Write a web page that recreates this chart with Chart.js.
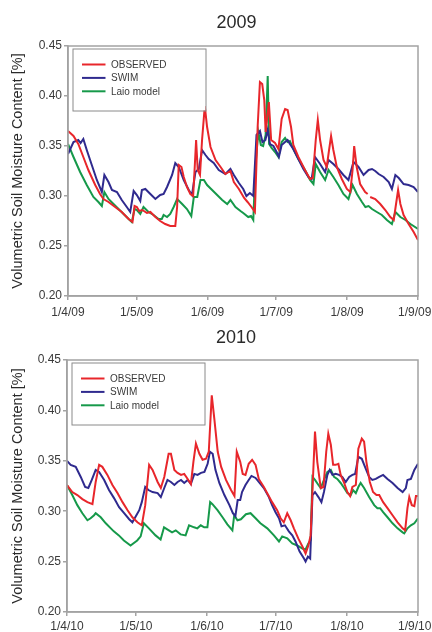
<!DOCTYPE html>
<html>
<head>
<meta charset="utf-8">
<script src="https://cdn.jsdelivr.net/npm/chart.js@4.4.0/dist/chart.umd.min.js"></script>
<style>
  html, body { margin: 0; padding: 0; background: #fff; }
  canvas { display: block; }
</style>
</head>
<body>
<canvas id="c2009" width="432" height="322"></canvas>
<canvas id="c2010" width="432" height="310"></canvas>
<script>
// days counted from 1 April
const seriesNames = ['OBSERVED', 'SWIM', 'Laio model'];
const tickDays = [0, 30, 61, 91, 122, 153];
const tickLabels2009 = ['1/4/09', '1/5/09', '1/6/09', '1/7/09', '1/8/09', '1/9/09'];
const tickLabels2010 = ['1/4/10', '1/5/10', '1/6/10', '1/7/10', '1/8/10', '1/9/10'];
const yTicks = [0.20, 0.25, 0.30, 0.35, 0.40, 0.45];

const obs2009 = [[0,0.365],[2.4,0.360],[4.5,0.352],[6.7,0.339],[8.9,0.326],[11.9,0.311],[14,0.302],[15.5,0.297],[17.7,0.294],[20.6,0.289],
  [23.5,0.284],[26.5,0.277],[28.2,0.274],[29.1,0.290],[30.1,0.289],[31.1,0.285],[32.5,0.286],[34.5,0.283],[36,0.284],[38.2,0.279],
  [40.3,0.275],[42.5,0.272],[44.7,0.270],[46.9,0.270],[47.7,0.289],[48.4,0.331],[49.6,0.329],[50.6,0.319],[52,0.309],[53.5,0.302],
  [54.7,0.300],[55.4,0.329],[56,0.356],[56.7,0.326],[57.7,0.321],[58.6,0.356],[59.8,0.390],[60.8,0.369],[62.3,0.349],[64.5,0.336],
  [66.7,0.329],[68.8,0.322],[71,0.325],[72.5,0.314],[74.7,0.307],[77,0.298],[78.5,0.294],[80.2,0.289],[81.7,0.284],[82.9,0.369],
  [83.9,0.414],[84.9,0.412],[85.8,0.396],[86.4,0.364],[87.8,0.394],[88.8,0.356],[90.5,0.353],[92,0.347],[93.4,0.377],[94.9,0.387],
  [96,0.386],[97.5,0.369],[98.5,0.351],[100.7,0.339],[103.6,0.326],[105.8,0.317],[107,0.318],[108.3,0.356],[109.2,0.376],[110.2,0.356],
  [111.7,0.336],[113.1,0.329],[114,0.344],[115,0.360],[116,0.346],[117.5,0.329],[119.7,0.317],[121.9,0.307],[123.4,0.304],[124.4,0.326],
  [125.1,0.350],[126.2,0.329],[127.7,0.312],[129.9,0.304],[131,0.302],[131.5,null],[132.1,0.299],[134.3,0.297],[136.5,0.292],[138.7,0.286],
  [140.9,0.279],[142.4,0.276],[143.4,0.292],[144.3,0.306],[145.3,0.292],[146.7,0.281],[148.9,0.272],[151.1,0.264],[153,0.256]];

const swim2009 = [[0,0.342],[2.4,0.354],[4.5,0.356],[5.5,0.353],[6.7,0.357],[8.2,0.346],[10.4,0.331],[12.6,0.316],[14.8,0.304],[15.9,0.321],
  [17.7,0.314],[19.2,0.306],[21.4,0.304],[23.5,0.296],[25.7,0.289],[27.2,0.284],[28.7,0.305],[30.1,0.301],[31.6,0.295],[32.3,0.306],
  [33.8,0.307],[36,0.302],[38.2,0.297],[40.3,0.301],[41.8,0.302],[43.3,0.309],[45.5,0.321],[46.9,0.333],[48.4,0.329],[50.6,0.316],
  [52.8,0.306],[54.2,0.301],[55.7,0.324],[57.2,0.327],[58.6,0.346],[60.1,0.341],[61.5,0.337],[63.7,0.333],[65.9,0.326],[68.8,0.322],
  [71,0.327],[72.5,0.321],[74.7,0.313],[76.6,0.307],[78,0.300],[79.5,0.303],[81,0.300],[82.4,0.361],[83.9,0.365],[85,0.354],
  [86.3,0.356],[87.3,0.366],[88.3,0.352],[89.8,0.350],[91.2,0.344],[92.2,0.339],[93.4,0.351],[94.9,0.354],[96,0.356],[97,0.352],
  [98.5,0.347],[100.7,0.337],[102.9,0.327],[105.1,0.319],[106.5,0.317],[108,0.339],[110.2,0.332],[112.4,0.324],[113.9,0.336],[116,0.332],
  [118.2,0.327],[120.4,0.321],[122.6,0.316],[124.8,0.334],[127,0.329],[129.2,0.321],[131.4,0.326],[132.9,0.327],[134.3,0.325],[135.8,0.322],
  [138,0.319],[140.2,0.314],[141.6,0.307],[143.1,0.321],[144.6,0.318],[146.7,0.312],[148.9,0.311],[151.1,0.309],[153,0.304]];

const laio2009 = [[0,0.352],[2.4,0.339],[5.3,0.324],[8.2,0.311],[11.1,0.299],[13.3,0.294],[14.8,0.290],[15.9,0.304],[17.7,0.297],[19.9,0.292],
  [22.1,0.287],[24.3,0.282],[26.5,0.277],[27.9,0.274],[29.1,0.287],[30.1,0.286],[31.6,0.282],[33,0.289],[35.2,0.284],[37.4,0.281],
  [39.6,0.277],[41,0.277],[41.8,0.281],[43.3,0.279],[44.7,0.282],[46.2,0.289],[47.7,0.297],[49.9,0.292],[52,0.287],[53.9,0.280],
  [55,0.299],[56.5,0.299],[57.9,0.316],[59.4,0.316],[60.8,0.311],[63,0.306],[65.2,0.301],[67.4,0.296],[69.6,0.292],[71,0.296],
  [73.2,0.289],[75.4,0.285],[76.6,0.283],[78.8,0.279],[80,0.280],[81,0.276],[81.9,0.329],[83.2,0.364],[84.3,0.351],[85.3,0.350],
  [86.4,0.361],[87.3,0.420],[87.9,0.352],[89,0.348],[90.5,0.344],[92,0.339],[93.4,0.354],[94.9,0.358],[96,0.354],[97,0.355],
  [98.5,0.347],[100.7,0.337],[103.6,0.326],[105.8,0.316],[107.3,0.312],[108.3,0.332],[110.2,0.324],[112.4,0.316],[113.9,0.326],[116,0.319],
  [118.2,0.311],[120.4,0.302],[122.6,0.297],[124.4,0.311],[126.3,0.302],[128.5,0.294],[130,0.289],[131.4,0.290],[132.9,0.287],[135,0.284],
  [137.2,0.281],[139.4,0.276],[141.6,0.272],[143.1,0.284],[145.3,0.279],[147.5,0.276],[149.7,0.272],[153,0.267]];

const obs2010 = [[0,0.326],[2.3,0.319],[4.5,0.316],[6.7,0.312],[8.9,0.309],[11.1,0.307],[12.5,0.329],[14,0.346],[15.4,0.344],[17.6,0.336],
  [19.8,0.326],[22,0.318],[24.2,0.309],[26.4,0.301],[28.5,0.294],[30.7,0.289],[32.6,0.286],[34.1,0.306],[35.8,0.346],[37.3,0.341],
  [39.5,0.329],[40.9,0.323],[42.4,0.334],[44.3,0.357],[45.3,0.357],[46.8,0.341],[48.2,0.338],[49.7,0.336],[51.1,0.337],[52.6,0.332],
  [54,0.327],[55.1,0.349],[56.2,0.367],[57.7,0.357],[59.1,0.351],[60.6,0.352],[61.8,0.359],[63.1,0.415],[64.2,0.392],[65.7,0.359],
  [67.2,0.344],[69.3,0.331],[71.5,0.321],[73,0.315],[74,0.359],[75.5,0.349],[76.6,0.337],[77.8,0.336],[79.2,0.347],[80.7,0.351],
  [82.2,0.346],[83.6,0.332],[85.8,0.324],[87.7,0.316],[89.4,0.309],[91.6,0.301],[93.1,0.293],[94.5,0.289],[96,0.298],[97.5,0.291],
  [98.9,0.283],[100.8,0.273],[102.6,0.265],[104,0.258],[105.2,0.266],[106.2,0.276],[107.2,0.332],[108.1,0.379],[109.1,0.349],[110.6,0.323],
  [111.8,0.324],[113,0.359],[113.9,0.377],[115,0.366],[116,0.346],[117.1,0.346],[118.3,0.347],[119.3,0.336],[120.8,0.328],[122.2,0.319],
  [123.4,0.315],[124.4,0.324],[125.9,0.326],[127,0.362],[128.5,0.372],[129.5,0.369],[130.5,0.349],[132,0.329],[133.4,0.319],[134.9,0.316],
  [136.1,0.316],[137.8,0.309],[139.7,0.303],[141.9,0.296],[144.1,0.289],[146.3,0.283],[147.4,0.281],[148.4,0.303],[149.2,0.314],[150.3,0.306],
  [151.4,0.305],[152.1,0.315],[153,0.315]];

const swim2010 = [[0,0.350],[1.6,0.346],[3.8,0.344],[6,0.334],[7.9,0.324],[9.3,0.323],[10.8,0.331],[12.5,0.341],[14,0.339],[16.2,0.331],
  [18.3,0.321],[20.5,0.313],[22.7,0.304],[24.9,0.298],[27.1,0.292],[28.5,0.289],[30,0.295],[31.5,0.301],[32.6,0.309],[34.1,0.324],
  [35.5,0.321],[37.3,0.319],[39.5,0.318],[40.9,0.314],[42.4,0.323],[43.8,0.331],[45.3,0.329],[46.8,0.326],[48.2,0.329],[49.7,0.331],
  [51.1,0.328],[52.6,0.331],[54,0.327],[55.5,0.337],[56.9,0.336],[58.4,0.338],[59.9,0.339],[61.3,0.347],[62.3,0.359],[63.5,0.357],
  [64.7,0.341],[66.4,0.328],[68.6,0.316],[70.8,0.306],[72.3,0.298],[73.4,0.295],[74.4,0.311],[75.5,0.311],[76.3,0.319],[77.8,0.326],
  [79.2,0.331],[80.4,0.335],[82.2,0.333],[83.6,0.329],[85.8,0.323],[88,0.314],[89.4,0.306],[90.9,0.299],[92.4,0.293],[93.5,0.285],
  [95,0.286],[96.7,0.280],[98.2,0.276],[99.6,0.270],[101.4,0.260],[103.3,0.253],[104,0.250],[105,0.255],[106,0.253],[107,0.316],
  [108.1,0.319],[109.6,0.314],[110.9,0.309],[112,0.319],[113.5,0.336],[114.5,0.341],[115.7,0.336],[117.1,0.337],[118.6,0.336],[120,0.334],
  [121.5,0.329],[123,0.334],[124.4,0.336],[125.6,0.337],[127,0.354],[128.5,0.352],[129.9,0.344],[131.7,0.334],[133.1,0.331],[134.6,0.332],
  [136.1,0.334],[137.8,0.336],[139.7,0.332],[141.9,0.328],[144.1,0.323],[146.3,0.319],[147.7,0.323],[148.4,0.331],[149.9,0.332],[151.4,0.341],
  [153,0.347]];

const laio2010 = [[0,0.326],[2.3,0.316],[4.5,0.306],[6.7,0.298],[8.9,0.291],[10.3,0.293],[11.8,0.296],[12.5,0.298],[14.7,0.294],[16.9,0.288],
  [19.1,0.283],[20.4,0.280],[22.6,0.276],[24.8,0.271],[27.7,0.266],[30.6,0.271],[32.1,0.275],[33.5,0.288],[35.7,0.283],[38.6,0.276],
  [40.8,0.272],[42.3,0.284],[44.4,0.281],[45.8,0.279],[47.4,0.281],[49.5,0.277],[51.7,0.276],[53.2,0.286],[55.4,0.284],[56.8,0.283],
  [58.3,0.286],[59.8,0.284],[61.2,0.284],[62.4,0.309],[63.4,0.307],[65.6,0.301],[67.8,0.294],[69.9,0.287],[72.1,0.281],[72.9,0.296],
  [74.3,0.291],[75.8,0.292],[78,0.297],[80,0.298],[82.2,0.293],[84.3,0.288],[87.3,0.283],[90.2,0.276],[92.4,0.270],[93.8,0.275],
  [96,0.273],[98.2,0.268],[100.4,0.266],[102.6,0.263],[104,0.262],[105.2,0.268],[106.2,0.271],[107,0.334],[108.1,0.331],[109.6,0.326],
  [110.6,0.323],[112,0.331],[113.5,0.339],[115,0.341],[116.4,0.334],[117.8,0.332],[119.3,0.328],[120.8,0.323],[122.2,0.318],[123.7,0.316],
  [124.7,0.321],[125.9,0.318],[127,0.324],[128,0.328],[129.5,0.323],[131.7,0.314],[133.9,0.306],[135.3,0.303],[136.5,0.303],[137.8,0.299],
  [139.7,0.294],[141.9,0.288],[144.1,0.283],[146.3,0.279],[147,0.278],[148.4,0.283],[149.9,0.286],[151.4,0.288],[153,0.293]];

const colors = ['#e8262b', '#2f2a8e', '#16994a'];
const axisGray = '#a3a3a3';
const textGray = '#3a3a3a';
const fontFamily = '"Liberation Sans", Arial, sans-serif';

// frame round the plot, panel title and boxed legend inside the plot
const panelDecor = {
  id: 'panelDecor',
  afterDatasetsDraw(chart, args, opts) {
    const { ctx, chartArea: a } = chart;
    ctx.save();
    ctx.strokeStyle = axisGray;
    ctx.lineWidth = 1.5;
    ctx.strokeRect(a.left, a.top, a.right - a.left, a.bottom - a.top);

    // legend box
    const bx = a.left + 4.5, by = a.top + 2.5, bw = 133, bh = 62;
    ctx.fillStyle = '#fff';
    ctx.fillRect(bx, by, bw, bh);
    ctx.strokeStyle = '#8a8a8a';
    ctx.lineWidth = 1;
    ctx.strokeRect(bx + 0.5, by + 0.5, bw, bh);
    ctx.font = '10px ' + fontFamily;
    ctx.textBaseline = 'middle';
    chart.data.datasets.forEach((ds, i) => {
      const y = by + 16 + i * 13.4;
      ctx.strokeStyle = ds.borderColor;
      ctx.lineWidth = 2;
      ctx.beginPath();
      ctx.moveTo(bx + 9.5, y);
      ctx.lineTo(bx + 33, y);
      ctx.stroke();
      ctx.fillStyle = textGray;
      ctx.fillText(ds.label, bx + 38.5, y + 0.5);
    });

    ctx.font = '18px ' + fontFamily;
    ctx.fillStyle = '#2a2a2a';
    ctx.textAlign = 'center';
    ctx.textBaseline = 'middle';
    ctx.fillText(opts.title, (a.left + a.right) / 2 - 6.5, opts.titleY);
    ctx.restore();
  }
};

function makePanel(id, title, titleY, tickLabels, series, dims) {
  return new Chart(document.getElementById(id), {
    type: 'line',
    data: {
      datasets: series.map((pts, i) => ({
        label: seriesNames[i],
        data: pts.map(p => ({ x: p[0], y: p[1] })),
        borderColor: colors[i],
        borderWidth: 2,
        pointRadius: 0,
        tension: 0,
        spanGaps: false,
        fill: false
      }))
    },
    options: {
      responsive: false,
      animation: false,
      layout: { padding: { top: dims.top, right: 14, bottom: 0, left: 0 } },
      plugins: {
        legend: { display: false },
        tooltip: { enabled: false },
        panelDecor: { title: title, titleY: titleY }
      },
      scales: {
        x: {
          type: 'linear',
          min: 0,
          max: 153,
          afterBuildTicks: s => { s.ticks = tickDays.map(v => ({ value: v })); },
          afterFit: s => { s.height = dims.xh; s.paddingLeft = 0; s.paddingRight = 0; },
          grid: { drawOnChartArea: false, drawTicks: true, tickLength: 4, color: axisGray, lineWidth: 1.5 },
          border: { color: axisGray, width: 1.5 },
          ticks: {
            maxRotation: 0,
            padding: dims.xpad,
            color: textGray,
            font: { size: 12, family: fontFamily },
            callback: (v, i, ticks) => {
              const lbl = tickLabels[tickDays.indexOf(v)];
              return i === ticks.length - 1 ? lbl + '  ' : lbl;
            }
          }
        },
        y: {
          min: 0.20,
          max: 0.45,
          afterBuildTicks: s => { s.ticks = yTicks.map(v => ({ value: v })); },
          afterFit: s => { s.width = dims.yw; },
          grid: { drawOnChartArea: false, drawTicks: true, tickLength: 4, color: axisGray, lineWidth: 1.5 },
          border: { color: axisGray, width: 1.5 },
          ticks: {
            padding: 2,
            color: textGray,
            font: { size: 12, family: fontFamily },
            callback: v => v.toFixed(2)
          },
          title: {
            display: true,
            text: 'Volumetric Soil Moisture Content [%]',
            color: '#2a2a2a',
            font: { size: 14.5, family: fontFamily },
            padding: { top: 9, bottom: 0 }
          }
        }
      }
    },
    plugins: [panelDecor]
  });
}

makePanel('c2009', '2009', 22.7, tickLabels2009, [obs2009, swim2009, laio2009], { top: 46, xh: 26, xpad: 5, yw: 68 });
makePanel('c2010', '2010', 16, tickLabels2010, [obs2010, swim2010, laio2010], { top: 38, xh: 20, xpad: 3, yw: 67 });
</script>
</body>
</html>
